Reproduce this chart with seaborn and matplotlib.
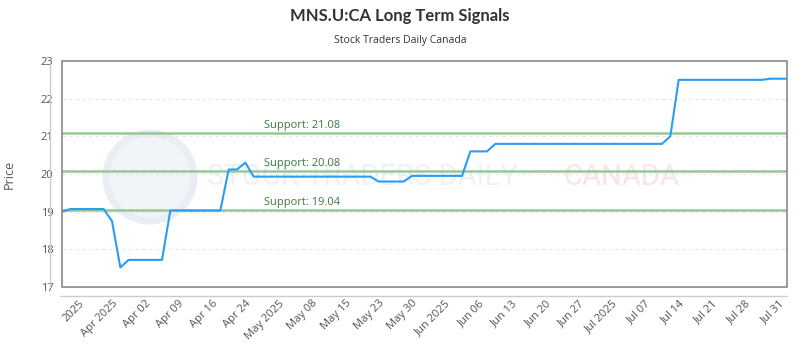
import numpy as np
import pandas as pd
import matplotlib
matplotlib.use("Agg")
import matplotlib.pyplot as plt
import seaborn as sns
from matplotlib.patches import Rectangle, Ellipse
from matplotlib.lines import Line2D

# Price series (one value per point on the chart)
prices = [19.00,
          19.07, 19.07, 19.07, 19.07, 19.07,
          18.75, 17.52,
          17.72, 17.72, 17.72, 17.72, 17.72,
          19.03, 19.03, 19.03, 19.03, 19.03, 19.03, 19.03,
          20.12, 20.12, 20.30,
          19.93, 19.93, 19.93, 19.93, 19.93, 19.93, 19.93, 19.93,
          19.93, 19.93, 19.93, 19.93, 19.93, 19.93, 19.93,
          19.80, 19.80, 19.80, 19.80,
          19.95, 19.95, 19.95, 19.95, 19.95, 19.95, 19.95,
          20.60, 20.60, 20.60,
          20.80, 20.80, 20.80, 20.80, 20.80, 20.80, 20.80, 20.80, 20.80, 20.80,
          20.80, 20.80, 20.80, 20.80, 20.80, 20.80, 20.80, 20.80, 20.80, 20.80,
          20.80,
          21.00,
          22.50, 22.50, 22.50, 22.50, 22.50, 22.50, 22.50, 22.50, 22.50, 22.50,
          22.50,
          22.53, 22.53, 22.53]

tick_labels = ["2025", "Apr 2025", "Apr 02", "Apr 09", "Apr 16", "Apr 24",
               "May 2025", "May 08", "May 15", "May 23", "May 30", "Jun 2025",
               "Jun 06", "Jun 13", "Jun 20", "Jun 27", "Jul 2025", "Jul 07",
               "Jul 14", "Jul 21", "Jul 28", "Jul 31"]
tick_idx = [2 + 4 * k for k in range(len(tick_labels))]

supports = [21.08, 20.08, 19.04]

df = pd.DataFrame({"idx": np.arange(len(prices)), "price": prices})

sns.set_style("white")
plt.rcParams["font.family"] = ["Open Sans", "DejaVu Sans"]

fig = plt.figure(figsize=(8, 3.5), dpi=100)
ax = fig.add_axes([62 / 800, 1 - 287 / 350, 725 / 800, 226 / 350])

# faint watermark behind everything
ax.add_patch(Ellipse((150 / 800, 1 - 177 / 350), 88 / 800, 88 / 350, transform=fig.transFigure,
                     facecolor="#f1f4f8", edgecolor="#e9edf4", lw=5, zorder=0))
ax.text(362 / 800, 1 - 177 / 350, "STOCK TRADERS DAILY", transform=fig.transFigure,
        fontsize=21, color="#eef1f6", ha="center", va="center", zorder=0,
        family=["Roboto", "DejaVu Sans"])
ax.text(621 / 800, 1 - 177 / 350, "CANADA", transform=fig.transFigure,
        fontsize=21, color="#fbe4e4", ha="center", va="center", zorder=0,
        family=["Roboto", "DejaVu Sans"])

for y in [18, 19, 20, 21, 22]:
    ax.axhline(y, color="#e6e6e6", lw=0.8, ls=(0, (3, 3)), zorder=1)

for s in supports:
    ax.axhline(s, color="#96c896", lw=1.8, zorder=2)
    ax.text(24.2, s + 0.06, f"Support: {s:.2f}", color="#3d7a3d", fontsize=8,
            ha="left", va="bottom", zorder=3)

sns.lineplot(data=df, x="idx", y="price", ax=ax, color="#2b9cf2", lw=1.5, zorder=4)

ax.set_xlim(0, len(prices) - 1)
ax.set_ylim(17, 23)
ax.set_yticks(range(17, 24))
ax.set_xticks(tick_idx)
ax.set_xticklabels(tick_labels, rotation=45, ha="right", rotation_mode="anchor")
ax.tick_params(axis="both", labelsize=8, colors="#555555", length=0, pad=6)
ax.tick_params(axis="x", pad=8)
ax.set_xlabel("")
ax.set_ylabel("Price", fontsize=9, color="#555555", labelpad=18)

for sp in ax.spines.values():
    sp.set_visible(False)
ax.add_patch(Rectangle((0, 0), 1, 1, transform=ax.transAxes, fill=False,
                       edgecolor="#888888", lw=1.2, clip_on=False, zorder=5))

# offset axis lines
fig.add_artist(Line2D([50 / 800, 50 / 800], [1 - 287 / 350, 1 - 61 / 350],
                      color="#cccccc", lw=1))
fig.add_artist(Line2D([60 / 800, 787 / 800], [1 - 296 / 350, 1 - 296 / 350],
                      color="#cccccc", lw=1))

fig.text(0.5, 1 - 16 / 350, "MNS.U:CA Long Term Signals", ha="center", va="center",
         fontsize=12, fontweight="bold", color="#333333", family=["Lato", "DejaVu Sans"])
fig.text(0.5, 1 - 40 / 350, "Stock Traders Daily Canada", ha="center", va="center",
         fontsize=7.5, color="#333333")

fig.savefig("out.png", dpi=100)
